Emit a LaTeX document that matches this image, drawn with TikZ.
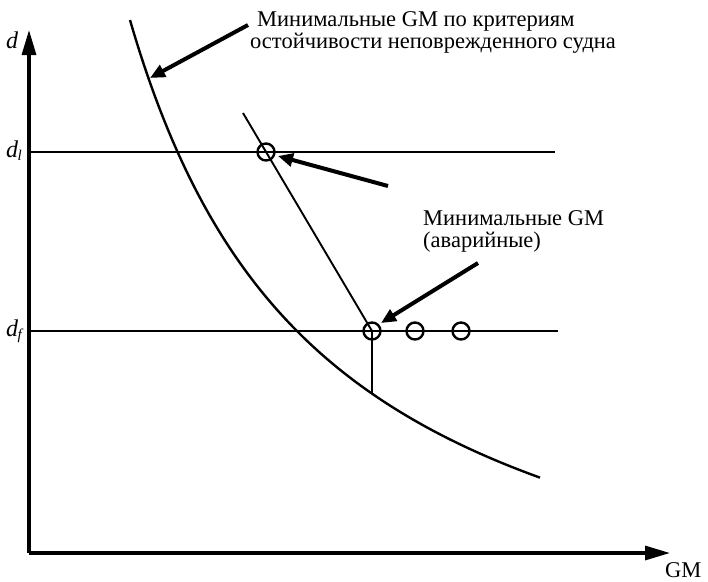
\documentclass[tikz,border=0pt]{standalone}
\usepackage{fontspec}
\setmainfont{Liberation Serif}
\usetikzlibrary{arrows.meta}
\begin{document}
\begin{tikzpicture}[x=1pt,y=-1pt,
  axis/.style={line width=3.2pt,-{Triangle[length=25pt,width=14pt]}},
  level/.style={line width=2.8pt},
  pointer/.style={line width=4pt,-{Triangle[length=15pt,width=13pt]}},
  mark circ/.style={circle,draw,line width=2.4pt,minimum size=17pt,inner sep=0pt},
  lbl/.style={font=\fontsize{22.5}{24}\selectfont,inner sep=0pt},
  axlbl/.style={font=\fontsize{24}{24}\selectfont\itshape,inner sep=0pt}]
\useasboundingbox (0,0) rectangle (708,581);
\clip (0,0) rectangle (708,581);
% axes
\coordinate (O) at (29,553);
\coordinate (Ytop) at (29,30);
\coordinate (Xend) at (670,553);
\draw[axis] (O) -- (Ytop);
\draw[axis] (O) -- (Xend);
\node[axlbl,anchor=base west] (dlab) at (6,48) {d};
\node[lbl,anchor=base west] (gmlab) at (665,577) {GM};
% levels
\coordinate (dl0) at (29,152);
\coordinate (dl1) at (555,152);
\coordinate (df0) at (29,331);
\coordinate (df1) at (558,331);
\draw[level] (dl0) -- (dl1);
\draw[level] (df0) -- (df1);
\node[axlbl,anchor=base west] (dllab) at (6,157) {d\kern-0.5pt\raisebox{-3pt}{\fontsize{15}{15}\selectfont\itshape l}};
\node[axlbl,anchor=base west] (dflab) at (6,336) {d\kern-0.5pt\raisebox{-3pt}{\fontsize{15}{15}\selectfont\itshape f}};
% intact curve
\draw[line width=2.4pt] plot[domain=130:540,samples=120] (\x,{696.8-1329.14/((\x+66.4)/100)});
\coordinate (cv) at (372,393.6);
% circles
\node[mark circ] (c1) at (266,152) {};
\node[mark circ] (c2) at (372,331) {};
\node[mark circ] (c3) at (415,331) {};
\node[mark circ] (c4) at (461,331) {};
% damage line
\coordinate (s0) at (243,113);
\draw[line width=1.9pt] (s0) -- (c2.center);
\draw[line width=2.1pt] (c2.center) -- (cv);
% texts
\node[lbl,anchor=base west] (t1a) at (257,26) {Минимальные GM по критериям};
\node[lbl,anchor=base west] (t1b) at (250,48) {остойчивости неповрежденного судна};
\node[lbl,anchor=base west] (t2a) at (423,225) {Минимальные GM};
\node[lbl,anchor=base west] (t2b) at (423,247) {(аварийные)};
\node[lbl,anchor=base] (cap) at (380,597) {Рис. Р.4};
% pointers
\coordinate (p1s) at (248,25);
\coordinate (p1e) at (150,78);
\coordinate (p2s) at (388,186);
\coordinate (p2e) at (278,156);
\coordinate (p3s) at (478,263);
\coordinate (p3e) at (381,323);
\draw[pointer] (p1s) -- (p1e);
\draw[pointer] (p2s) -- (p2e);
\draw[pointer] (p3s) -- (p3e);
\end{tikzpicture}
\end{document}
